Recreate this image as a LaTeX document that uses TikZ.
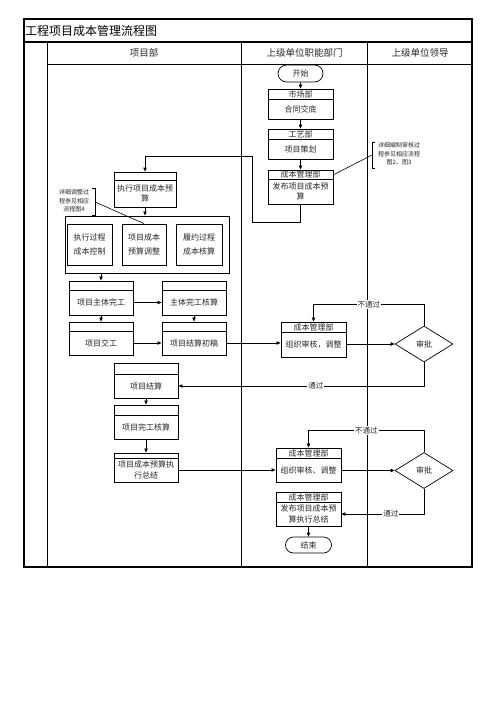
\documentclass[tikz,border=0pt]{standalone}
\usepackage{fontspec}
\newfontfamily\cjk{Noto Sans CJK SC}
\usetikzlibrary{shapes.geometric,shapes.misc,fit,arrows.meta}
\newcommand\flbox[8]{%
 \node[bx, fit={(#2,#3)(#4,#5)}] (#1) {};
 \draw[thinln] (#2,#6) -- (#4,#6);
 \node[hd] (#1h) at ({(#2+#4)/2},{(#3+#6)/2}) {#7};
 \node[t8] (#1b) at ({(#2+#4)/2},{(#6+#5)/2}) {#8};
}
\begin{document}
\begin{tikzpicture}[x=1pt,y=-1pt,font=\cjk,
 arr/.style={-{Triangle[length=4pt,width=3.4pt]}, line width=0.7pt},
 ln/.style={line width=0.7pt},
 thinln/.style={line width=0.6pt},
 bx/.style={draw, inner sep=0pt, line width=0.9pt},
 t8/.style={font=\cjk\fontsize{8}{10.5}\selectfont, text=black!85, align=center, inner sep=0pt},
 hd/.style={font=\cjk\fontsize{8}{10}\selectfont, text=black!85, inner sep=0pt},
 lab/.style={font=\cjk\fontsize{7.5}{9}\selectfont, fill=white, inner sep=1pt, text=black!85},
 note/.style={font=\cjk\fontsize{6}{8.5}\selectfont, align=center, inner sep=0pt, text=black!85},
 term/.style={draw, rounded rectangle, line width=0.7pt, inner sep=0pt, font=\cjk\fontsize{8}{10}\selectfont, text=black!85},
 dia/.style={draw, diamond, line width=0.7pt, inner sep=0pt, minimum width=58pt, minimum height=36pt, font=\cjk\fontsize{8}{10}\selectfont, text=black!85}]
\useasboundingbox (0,0) rectangle (496,702);
% table
\draw[line width=1.2pt] (24,19) rectangle (472,567);
\draw[line width=1.2pt] (24,42) -- (472,42);
\draw[line width=0.8pt] (47,64) -- (472,64);
\draw[line width=0.9pt] (47,42) -- (47,567);
\draw[line width=0.9pt] (241.5,42) -- (241.5,567);
\draw[line width=0.9pt] (367.5,42) -- (367.5,567);
\node[anchor=west, font=\cjk\fontsize{12}{14}\selectfont, inner sep=0pt] (title) at (25,31) {工程项目成本管理流程图};
\node[font=\cjk\fontsize{9.5}{11}\selectfont, text=black!85] (h1) at (144,53) {项目部};
\node[font=\cjk\fontsize{9.5}{11}\selectfont, text=black!85] (h2) at (304.5,53) {上级单位职能部门};
\node[font=\cjk\fontsize{9.5}{11}\selectfont, text=black!85] (h3) at (420,53) {上级单位领导};
% right column flow (top)
\node[term, minimum width=45pt, minimum height=17pt] (start) at (300.5,73.5) {开始};
\flbox{sc}{268}{89}{333}{119}{99}{市场部}{合同交底}
\flbox{gy}{268}{129}{333}{159}{139}{工艺部}{项目策划}
\flbox{cba}{268}{170}{333}{204}{179}{成本管理部}{发布项目成本预\\算}
\draw[arr] (start) -- (sc);
\draw[arr] (sc) -- (gy);
\draw[arr] (gy) -- (cba);
% note 1
\node[note] (n1) at (399,154) {详细编制审核过\\程参见相应流程\\图2、图3};
\draw[thinln] (375,142) -- (372,142) -- (372,168) -- (375,168);
\coordinate (n1a) at (372,155);
\draw[thinln] (n1a) -- (333,175);
% project dept
\flbox{exe}{114}{172}{176}{207}{180}{}{执行项目成本预\\算}
\coordinate (t1) at (252,222);
\coordinate (t2) at (252,156);
\draw[arr] (cba.south) |- (t1) -- (t2) -| (exe.north);
\node[bx, fit={(65,216)(229,273)}] (ct) {};
\draw[arr] (exe.south) -- (exe.south |- ct.north);
\node[bx, fit={(67,224)(112,265)}] (ia) {};
\node[bx, fit={(122,224)(166,265)}] (ib) {};
\node[bx, fit={(176,224)(222,265)}] (ic) {};
\node[t8, font=\cjk\fontsize{8}{14}\selectfont] (iat) at (ia) {执行过程\\成本控制};
\node[t8, font=\cjk\fontsize{8}{14}\selectfont] (ibt) at (ib) {项目成本\\预算调整};
\node[t8, font=\cjk\fontsize{8}{14}\selectfont] (ict) at (ic) {履约过程\\成本核算};
% note 2
\node[note] (n2) at (74,201) {详细调整过\\程参见相应\\流程图4};
\draw[thinln] (92,188) -- (95,188) -- (95,215) -- (92,215);
\coordinate (n2a) at (95,202);
\draw[thinln] (n2a) -- (ib.north);
\flbox{zt}{69}{281}{133}{315}{290}{}{项目主体完工}
\flbox{zh}{162}{281}{226}{315}{290}{}{主体完工核算}
\flbox{jg}{69}{322}{133}{355}{331}{}{项目交工}
\flbox{jc}{162}{322}{226}{355}{331}{}{项目结算初稿}
\draw[arr] (zt.north |- ct.south) -- (zt.north);
\draw[arr] (zt.east |- ztb) -- (zh.west |- ztb);
\draw[arr] (zt) -- (jg);
\draw[arr] (zh) -- (jc);
\draw[arr] (jg.east |- jgb) -- (jc.west |- jgb);
% review 1
\flbox{cbb}{281}{322}{346}{357}{332}{成本管理部}{组织审核，调整}
\node[dia] (d1) at (424,344) {审批};
\draw[arr] (jc.east |- jcb) -- (cbb.west |- jcb);
\draw[arr] (cbb.east |- d1) -- (d1.west);
\draw[arr] (d1.north) -- ++(0,-21) -| node[lab, pos=0.25] (lb1) {不通过} (cbb.north);
\flbox{xj}{114}{363}{178}{398}{374}{}{项目结算}
\draw[arr] (d1.south) |- node[lab, pos=0.72] (lb2) {通过} (xj.east |- xjb);
\flbox{wg}{114}{405}{178}{439}{415}{}{项目完工核算}
\flbox{zj}{114}{453}{178}{482}{458}{}{项目成本预算执\\行总结}
\draw[arr] (xj) -- (wg);
\draw[arr] (wg) -- (zj);
% review 2
\flbox{cbc}{276}{448}{341}{482}{458}{成本管理部}{组织审核、调整}
\node[dia] (d2) at (424,470.5) {审批};
\draw[arr] (zj.east |- zjb) -- (cbc.west |- zjb);
\draw[arr] (cbc.east |- d2) -- (d2.west);
\draw[arr] (d2.north) -- ++(0,-22) -| node[lab, pos=0.25] (lb3) {不通过} (cbc.north);
\flbox{cbd}{276}{492}{341}{526}{502}{成本管理部}{发布项目成本预\\算执行总结}
\draw[arr] (d2.south) |- node[lab, pos=0.7] (lb4) {通过} (cbd.east |- cbdb);
\node[term, minimum width=46pt, minimum height=16pt] (end) at (308.5,545) {结束};
\draw[arr] (cbd) -- (end);
\end{tikzpicture}
\end{document}
